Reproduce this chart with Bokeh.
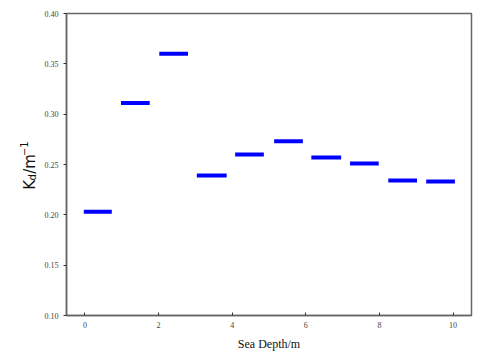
import math
from bokeh.plotting import figure
from bokeh.layouts import row
from bokeh.models import FixedTicker, Range1d, PrintfTickFormatter
from bokeh.core.properties import value
from bokeh.embed import file_html
from bokeh.resources import INLINE

depth_start = [-0.03, 0.98, 2.02, 3.04, 4.08, 5.14, 6.15, 7.20, 8.24, 9.27]
depth_end = [0.73, 1.76, 2.80, 3.85, 4.86, 5.92, 6.96, 7.98, 9.02, 10.05]
kd = [0.203, 0.311, 0.360, 0.239, 0.260, 0.273, 0.257, 0.251, 0.234, 0.233]
x_ticks = [0, 2, 4, 6, 8, 10]
y_ticks = [0.10, 0.15, 0.20, 0.25, 0.30, 0.35, 0.40]

LW = 40  # width of the y-label strip
H = 358

p = figure(width=488 - LW, height=H, output_backend="svg", toolbar_location=None,
           x_range=Range1d(-0.5, 10.5), y_range=Range1d(0.10, 0.40),
           min_border_left=66 - LW, min_border_right=17, min_border_top=13, min_border_bottom=43)
p.grid.visible = False
p.background_fill_color = "white"
p.border_fill_color = "white"
p.outline_line_color = "#666666"
p.outline_line_width = 1.5

p.segment(x0=depth_start, y0=kd, x1=depth_end, y1=kd, line_color="#0000ff", line_width=4)

for ax in (p.xaxis, p.yaxis):
    ax.axis_line_color = "#666666"
    ax.axis_line_width = 1.5
    ax.major_tick_line_color = "#333333"
    ax.minor_tick_line_color = None
    ax.major_label_text_font = "Liberation Serif"
    ax.major_label_text_font_size = "8px"
    ax.major_label_text_color = "#444444"

p.xaxis.ticker = FixedTicker(ticks=x_ticks)
p.xaxis.major_tick_in = 3
p.xaxis.major_tick_out = 0
p.xaxis.major_label_standoff = 6
p.xaxis.axis_label = "Sea Depth/m"
p.xaxis.axis_label_text_font = "Liberation Serif"
p.xaxis.axis_label_text_font_size = "12px"
p.xaxis.axis_label_text_font_style = "normal"
p.xaxis.axis_label_text_color = "#111111"
p.xaxis.axis_label_standoff = 6

p.yaxis.ticker = FixedTicker(ticks=y_ticks)
p.yaxis.formatter = PrintfTickFormatter(format="%.2f")
p.yaxis.major_tick_in = 0
p.yaxis.major_tick_out = 3
p.yaxis.major_label_standoff = 5

# y-axis label strip: K_d / m^-1 built from pieces, in pixel coordinates of the strip
lab = figure(width=LW, height=H, output_backend="svg", toolbar_location=None,
             x_range=Range1d(0, LW), y_range=Range1d(0, H),
             x_axis_location=None, y_axis_location=None,
             min_border=0, min_border_left=0, min_border_right=0,
             min_border_top=0, min_border_bottom=0)
lab.grid.visible = False
lab.outline_line_color = None
lab.border_fill_color = "white"
lab.background_fill_color = "white"

ang = math.pi / 2
base = 149
lab.text(x=[29, 29], y=[base, base + 19], text=["K", "/m"], angle=ang,
         text_font=value("DejaVu Sans"), text_font_size=value("15px"),
         text_color="#111111", text_baseline="alphabetic", text_align="left")
lab.text(x=[32], y=[base + 11], text=["d"], angle=ang,
         text_font=value("DejaVu Sans"), text_font_size=value("10px"),
         text_color="#111111", text_baseline="alphabetic", text_align="left")
lab.text(x=[23], y=[base + 40], text=["\u22121"], angle=ang,
         text_font=value("DejaVu Sans"), text_font_size=value("10px"),
         text_color="#111111", text_baseline="alphabetic", text_align="left")

layout = row(lab, p, spacing=0)
open("out.html", "w").write(file_html(layout, INLINE))
